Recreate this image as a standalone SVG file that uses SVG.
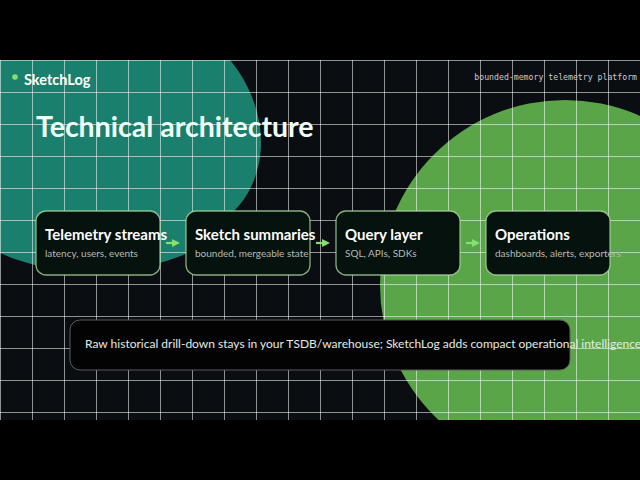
<svg xmlns="http://www.w3.org/2000/svg" width="640" height="480" viewBox="0 0 640 480">
<style>
.grid line{stroke:#ffffff;stroke-opacity:0.55;stroke-width:1}
.box{fill:#06120e;stroke:#a8d69c;stroke-opacity:0.8;stroke-width:1.3}
.ttl{font-family:Lato,"Noto Sans",sans-serif;font-weight:700;font-size:15px;fill:#ffffff}
.sub{font-family:Lato,"Noto Sans",sans-serif;font-size:10px;fill:#b4bcb8}
.conn line{stroke:#86e070;stroke-width:2.2}
</style>
<defs>
<marker id="ah" viewBox="0 0 8 8" refX="4" refY="4" markerWidth="3.6" markerHeight="3.6" orient="auto" markerUnits="strokeWidth">
<path d="M0,0 L8,4 L0,8 z" fill="#86e070"/>
</marker>
<clipPath id="content"><rect x="0" y="60" width="640" height="360"/></clipPath>
</defs>
<rect x="0" y="0" width="640" height="480" fill="#000000"/>
<g clip-path="url(#content)">
<rect x="0" y="60" width="640" height="360" fill="#0a0d11"/>
<path d="M0,0 L170,0 C200,20 220,45 230,60 C247,80 261,110 261,143 C261,170 250,195 235,210 C220,232 200,250 178,257 C130,275 60,280 0,253 Z" fill="#1a7f6c"/>
<circle cx="565" cy="285" r="185" fill="#5aa548"/>
<g class="grid">
<line x1="0.5" y1="60" x2="0.5" y2="420"/><line x1="32.5" y1="60" x2="32.5" y2="420"/><line x1="64.5" y1="60" x2="64.5" y2="420"/><line x1="96.5" y1="60" x2="96.5" y2="420"/><line x1="128.5" y1="60" x2="128.5" y2="420"/><line x1="160.5" y1="60" x2="160.5" y2="420"/><line x1="192.5" y1="60" x2="192.5" y2="420"/><line x1="224.5" y1="60" x2="224.5" y2="420"/><line x1="256.5" y1="60" x2="256.5" y2="420"/><line x1="288.5" y1="60" x2="288.5" y2="420"/><line x1="320.5" y1="60" x2="320.5" y2="420"/><line x1="352.5" y1="60" x2="352.5" y2="420"/><line x1="384.5" y1="60" x2="384.5" y2="420"/><line x1="416.5" y1="60" x2="416.5" y2="420"/><line x1="448.5" y1="60" x2="448.5" y2="420"/><line x1="480.5" y1="60" x2="480.5" y2="420"/><line x1="512.5" y1="60" x2="512.5" y2="420"/><line x1="544.5" y1="60" x2="544.5" y2="420"/><line x1="576.5" y1="60" x2="576.5" y2="420"/><line x1="608.5" y1="60" x2="608.5" y2="420"/>
<line x1="0" y1="60.5" x2="640" y2="60.5"/><line x1="0" y1="92.5" x2="640" y2="92.5"/><line x1="0" y1="124.5" x2="640" y2="124.5"/><line x1="0" y1="156.5" x2="640" y2="156.5"/><line x1="0" y1="188.5" x2="640" y2="188.5"/><line x1="0" y1="220.5" x2="640" y2="220.5"/><line x1="0" y1="252.5" x2="640" y2="252.5"/><line x1="0" y1="284.5" x2="640" y2="284.5"/><line x1="0" y1="316.5" x2="640" y2="316.5"/><line x1="0" y1="348.5" x2="640" y2="348.5"/><line x1="0" y1="380.5" x2="640" y2="380.5"/><line x1="0" y1="412.5" x2="640" y2="412.5"/>
</g>
</g>
<g id="header">
<circle cx="15" cy="77" r="2.8" fill="#86e070"/>
<text x="24" y="85" font-family="Lato,'Noto Sans',sans-serif" font-weight="700" font-size="14.5" fill="#ffffff">SketchLog</text>
<text x="637" y="80" text-anchor="end" font-family="'DejaVu Sans Mono','Liberation Mono',monospace" font-size="8.2" fill="#c8ccd0">bounded-memory telemetry platform</text>
<text x="36" y="137" font-family="Lato,'Noto Sans',sans-serif" font-weight="700" font-size="28.5" fill="#f0fff8">Technical architecture</text>
</g>
<g id="node-telemetry">
<rect class="box" x="36" y="211" width="124" height="64" rx="10"/>
<text class="ttl" x="45" y="240">Telemetry streams</text>
<text class="sub" x="45" y="257">latency, users, events</text>
</g>
<g id="node-sketch">
<rect class="box" x="186" y="211" width="124" height="64" rx="10"/>
<text class="ttl" x="195" y="240">Sketch summaries</text>
<text class="sub" x="195" y="257">bounded, mergeable state</text>
</g>
<g id="node-query">
<rect class="box" x="336" y="211" width="124" height="64" rx="10"/>
<text class="ttl" x="345" y="240">Query layer</text>
<text class="sub" x="345" y="257">SQL, APIs, SDKs</text>
</g>
<g id="node-operations">
<rect class="box" x="486" y="211" width="124" height="64" rx="10"/>
<text class="ttl" x="495" y="240">Operations</text>
<text class="sub" x="495" y="257">dashboards, alerts, exporters</text>
</g>
<g class="conn" id="connectors">
<line x1="166" y1="243" x2="176" y2="243" marker-end="url(#ah)"/>
<line x1="316" y1="243" x2="326" y2="243" marker-end="url(#ah)"/>
<line x1="466" y1="243" x2="476" y2="243" marker-end="url(#ah)"/>
</g>
<g id="note">
<rect x="70" y="320" width="500" height="50" rx="10" fill="#030303" stroke="#5a5e5c" stroke-width="1"/>
<text x="85" y="348" font-family="Lato,'Noto Sans',sans-serif" font-size="12" fill="#e4ece6">Raw historical drill-down stays in your TSDB/warehouse; SketchLog adds compact operational intelligence</text>
</g>
</svg>
